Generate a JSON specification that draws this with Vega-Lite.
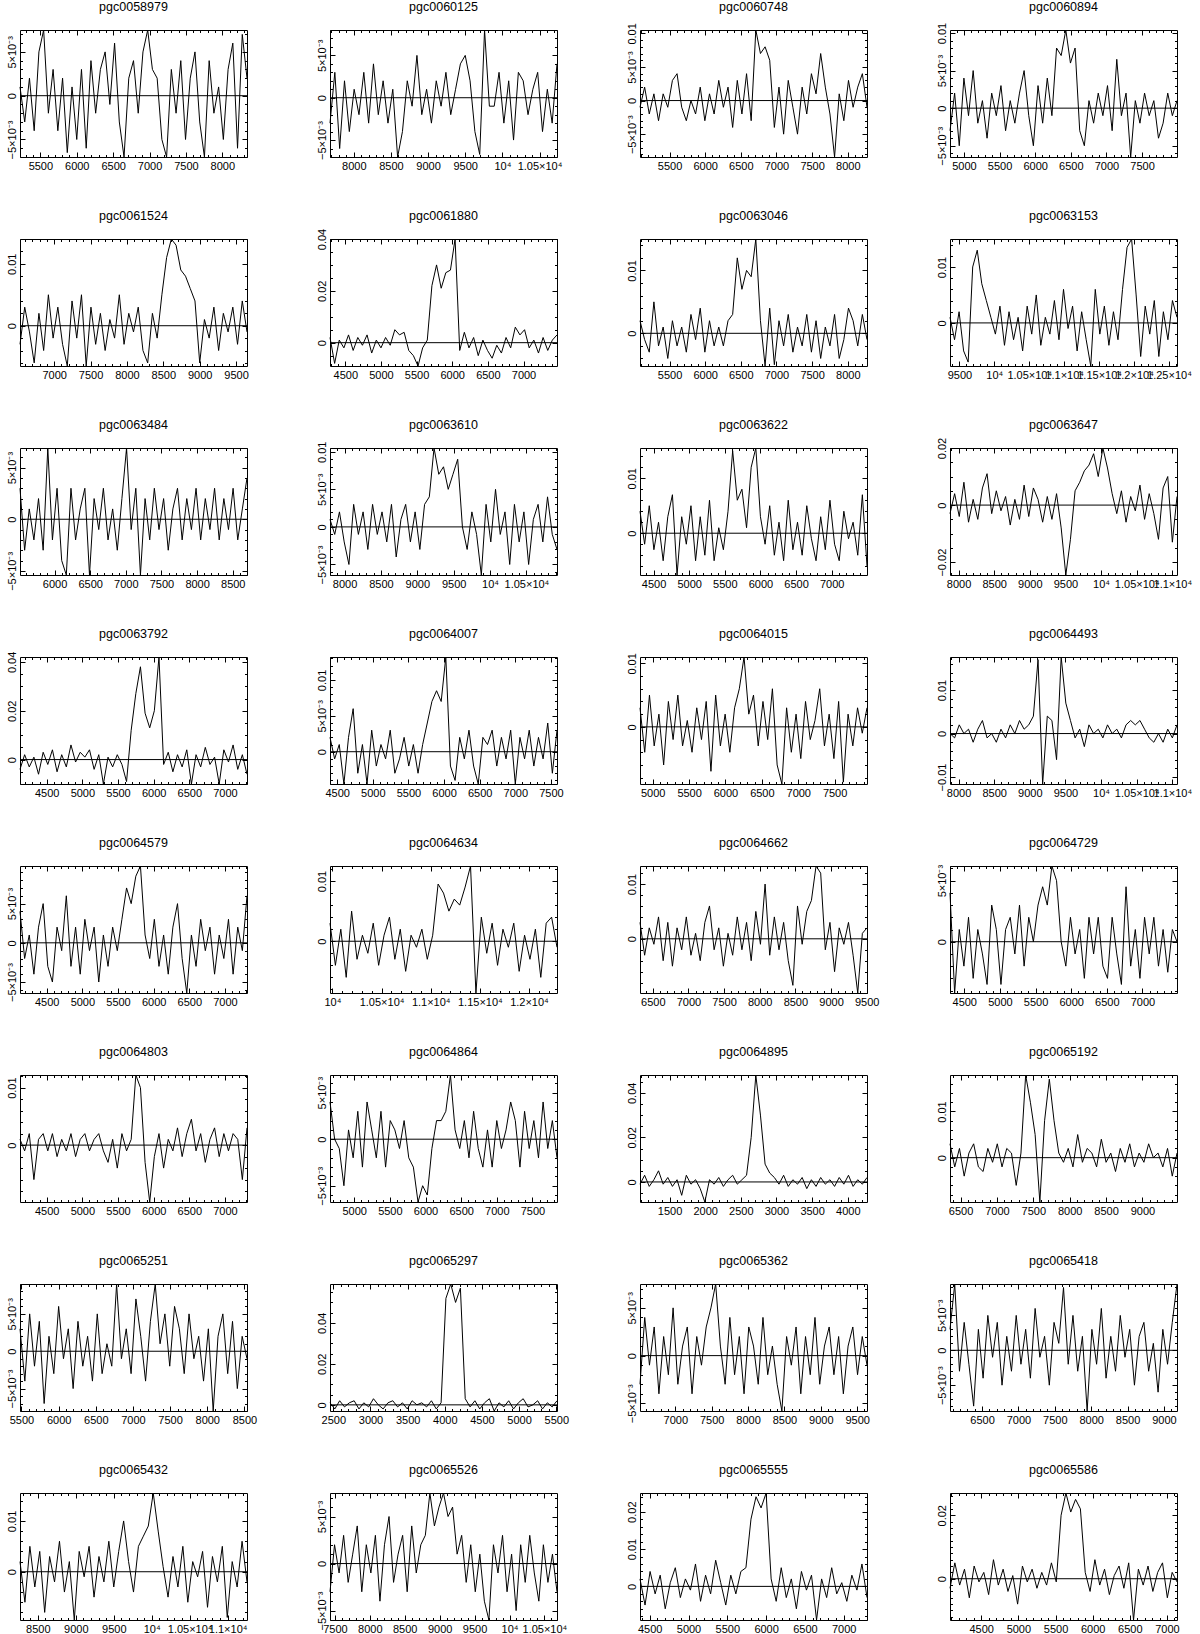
{
"$schema": "https://vega.github.io/schema/vega-lite/v6.json",
"padding": {"left": 4, "top": 0, "right": 5, "bottom": 0},
"datasets": {
"names": [{"g":1,"n":"pgc0058979"},{"g":2,"n":"pgc0060125"},{"g":3,"n":"pgc0060748"},{"g":4,"n":"pgc0060894"},{"g":5,"n":"pgc0061524"},{"g":6,"n":"pgc0061880"},{"g":7,"n":"pgc0063046"},{"g":8,"n":"pgc0063153"},{"g":9,"n":"pgc0063484"},{"g":10,"n":"pgc0063610"},{"g":11,"n":"pgc0063622"},{"g":12,"n":"pgc0063647"},{"g":13,"n":"pgc0063792"},{"g":14,"n":"pgc0064007"},{"g":15,"n":"pgc0064015"},{"g":16,"n":"pgc0064493"},{"g":17,"n":"pgc0064579"},{"g":18,"n":"pgc0064634"},{"g":19,"n":"pgc0064662"},{"g":20,"n":"pgc0064729"},{"g":21,"n":"pgc0064803"},{"g":22,"n":"pgc0064864"},{"g":23,"n":"pgc0064895"},{"g":24,"n":"pgc0065192"},{"g":25,"n":"pgc0065251"},{"g":26,"n":"pgc0065297"},{"g":27,"n":"pgc0065362"},{"g":28,"n":"pgc0065418"},{"g":29,"n":"pgc0065432"},{"g":30,"n":"pgc0065526"},{"g":31,"n":"pgc0065555"},{"g":32,"n":"pgc0065586"}],
"spec": [
{"g":1,"x":5220,"y":1},{"g":1,"x":5285,"y":-3},{"g":1,"x":5350,"y":2},{"g":1,"x":5415,"y":-4},{"g":1,"x":5480,"y":5},{"g":1,"x":5545,"y":7.5},{"g":1,"x":5610,"y":-2},{"g":1,"x":5675,"y":3},{"g":1,"x":5740,"y":-4},{"g":1,"x":5805,"y":2},{"g":1,"x":5870,"y":-6.5},{"g":1,"x":5935,"y":1},{"g":1,"x":6000,"y":-5},{"g":1,"x":6065,"y":3},{"g":1,"x":6130,"y":-6},{"g":1,"x":6195,"y":4},{"g":1,"x":6260,"y":-2},{"g":1,"x":6325,"y":3},{"g":1,"x":6390,"y":5},{"g":1,"x":6455,"y":-1},{"g":1,"x":6520,"y":6},{"g":1,"x":6585,"y":-3},{"g":1,"x":6650,"y":-7},{"g":1,"x":6715,"y":2},{"g":1,"x":6780,"y":4},{"g":1,"x":6845,"y":-2},{"g":1,"x":6910,"y":5},{"g":1,"x":6975,"y":7.5},{"g":1,"x":7040,"y":3},{"g":1,"x":7105,"y":2},{"g":1,"x":7170,"y":-5},{"g":1,"x":7235,"y":-7},{"g":1,"x":7300,"y":3},{"g":1,"x":7365,"y":-2},{"g":1,"x":7430,"y":4},{"g":1,"x":7495,"y":-5},{"g":1,"x":7560,"y":2},{"g":1,"x":7625,"y":5},{"g":1,"x":7690,"y":-3},{"g":1,"x":7755,"y":-7},{"g":1,"x":7820,"y":4},{"g":1,"x":7885,"y":-2},{"g":1,"x":7950,"y":1},{"g":1,"x":8015,"y":-5},{"g":1,"x":8080,"y":3},{"g":1,"x":8145,"y":6},{"g":1,"x":8210,"y":-6},{"g":1,"x":8275,"y":7},{"g":1,"x":8340,"y":2},
{"g":2,"x":7680,"y":-3},{"g":2,"x":7745,"y":3},{"g":2,"x":7810,"y":-6},{"g":2,"x":7875,"y":2},{"g":2,"x":7940,"y":-4},{"g":2,"x":8005,"y":1},{"g":2,"x":8070,"y":-2},{"g":2,"x":8135,"y":3},{"g":2,"x":8200,"y":-3},{"g":2,"x":8265,"y":4},{"g":2,"x":8330,"y":-2},{"g":2,"x":8395,"y":2},{"g":2,"x":8460,"y":-3},{"g":2,"x":8525,"y":1},{"g":2,"x":8590,"y":-7},{"g":2,"x":8655,"y":-4},{"g":2,"x":8720,"y":2},{"g":2,"x":8785,"y":-1},{"g":2,"x":8850,"y":5},{"g":2,"x":8915,"y":-2},{"g":2,"x":8980,"y":1},{"g":2,"x":9045,"y":-3},{"g":2,"x":9110,"y":2},{"g":2,"x":9175,"y":-1},{"g":2,"x":9240,"y":3},{"g":2,"x":9305,"y":-2},{"g":2,"x":9370,"y":1},{"g":2,"x":9435,"y":4},{"g":2,"x":9500,"y":5},{"g":2,"x":9565,"y":2},{"g":2,"x":9630,"y":-4},{"g":2,"x":9695,"y":-6.7},{"g":2,"x":9760,"y":8},{"g":2,"x":9825,"y":-1},{"g":2,"x":9890,"y":-1},{"g":2,"x":9955,"y":3},{"g":2,"x":10020,"y":-3},{"g":2,"x":10085,"y":2},{"g":2,"x":10150,"y":-5},{"g":2,"x":10215,"y":3},{"g":2,"x":10280,"y":2},{"g":2,"x":10345,"y":-2},{"g":2,"x":10410,"y":1},{"g":2,"x":10475,"y":3},{"g":2,"x":10540,"y":-4},{"g":2,"x":10605,"y":1},{"g":2,"x":10670,"y":-3},{"g":2,"x":10735,"y":4},
{"g":3,"x":5085,"y":-1},{"g":3,"x":5150,"y":2},{"g":3,"x":5215,"y":-2},{"g":3,"x":5280,"y":1},{"g":3,"x":5345,"y":-3},{"g":3,"x":5410,"y":1},{"g":3,"x":5475,"y":-1},{"g":3,"x":5540,"y":3},{"g":3,"x":5605,"y":4},{"g":3,"x":5670,"y":-1},{"g":3,"x":5735,"y":-3},{"g":3,"x":5800,"y":0},{"g":3,"x":5865,"y":-2},{"g":3,"x":5930,"y":2},{"g":3,"x":5995,"y":-3},{"g":3,"x":6060,"y":1},{"g":3,"x":6125,"y":-2},{"g":3,"x":6190,"y":3},{"g":3,"x":6255,"y":-1},{"g":3,"x":6320,"y":2},{"g":3,"x":6385,"y":-4},{"g":3,"x":6450,"y":3},{"g":3,"x":6515,"y":-2},{"g":3,"x":6580,"y":4},{"g":3,"x":6645,"y":-3},{"g":3,"x":6710,"y":10.5},{"g":3,"x":6775,"y":7},{"g":3,"x":6840,"y":8},{"g":3,"x":6905,"y":6},{"g":3,"x":6970,"y":-4},{"g":3,"x":7035,"y":2},{"g":3,"x":7100,"y":-5},{"g":3,"x":7165,"y":3},{"g":3,"x":7230,"y":-1},{"g":3,"x":7295,"y":-5},{"g":3,"x":7360,"y":2},{"g":3,"x":7425,"y":-2},{"g":3,"x":7490,"y":4},{"g":3,"x":7555,"y":1},{"g":3,"x":7620,"y":7},{"g":3,"x":7685,"y":2},{"g":3,"x":7750,"y":-2},{"g":3,"x":7815,"y":-8.4},{"g":3,"x":7880,"y":1},{"g":3,"x":7945,"y":-3},{"g":3,"x":8010,"y":3},{"g":3,"x":8075,"y":-1},{"g":3,"x":8140,"y":2},{"g":3,"x":8205,"y":4},{"g":3,"x":8270,"y":-1},
{"g":4,"x":4805,"y":-3},{"g":4,"x":4870,"y":2},{"g":4,"x":4935,"y":-5},{"g":4,"x":5000,"y":4},{"g":4,"x":5065,"y":-1},{"g":4,"x":5130,"y":5},{"g":4,"x":5195,"y":-2},{"g":4,"x":5260,"y":1},{"g":4,"x":5325,"y":-4},{"g":4,"x":5390,"y":2},{"g":4,"x":5455,"y":-1},{"g":4,"x":5520,"y":3},{"g":4,"x":5585,"y":-3},{"g":4,"x":5650,"y":1},{"g":4,"x":5715,"y":-2},{"g":4,"x":5780,"y":2},{"g":4,"x":5845,"y":5},{"g":4,"x":5910,"y":-1},{"g":4,"x":5975,"y":-5},{"g":4,"x":6040,"y":3},{"g":4,"x":6105,"y":-2},{"g":4,"x":6170,"y":4},{"g":4,"x":6235,"y":-1},{"g":4,"x":6300,"y":8},{"g":4,"x":6365,"y":7},{"g":4,"x":6430,"y":10.4},{"g":4,"x":6495,"y":6},{"g":4,"x":6560,"y":8},{"g":4,"x":6625,"y":-3},{"g":4,"x":6690,"y":-5},{"g":4,"x":6755,"y":1},{"g":4,"x":6820,"y":-2},{"g":4,"x":6885,"y":2},{"g":4,"x":6950,"y":-1},{"g":4,"x":7015,"y":3},{"g":4,"x":7080,"y":-3},{"g":4,"x":7145,"y":6.5},{"g":4,"x":7210,"y":-1},{"g":4,"x":7275,"y":2},{"g":4,"x":7340,"y":-6.5},{"g":4,"x":7405,"y":1},{"g":4,"x":7470,"y":-2},{"g":4,"x":7535,"y":2},{"g":4,"x":7600,"y":-1},{"g":4,"x":7665,"y":1},{"g":4,"x":7730,"y":-4},{"g":4,"x":7795,"y":-2},{"g":4,"x":7860,"y":2},{"g":4,"x":7925,"y":-1},{"g":4,"x":7990,"y":1},
{"g":5,"x":6530,"y":-3},{"g":5,"x":6595,"y":3},{"g":5,"x":6660,"y":-1},{"g":5,"x":6725,"y":-6},{"g":5,"x":6790,"y":2},{"g":5,"x":6855,"y":-4},{"g":5,"x":6920,"y":5},{"g":5,"x":6985,"y":-2},{"g":5,"x":7050,"y":3},{"g":5,"x":7115,"y":-3},{"g":5,"x":7180,"y":-6.5},{"g":5,"x":7245,"y":4},{"g":5,"x":7310,"y":-2},{"g":5,"x":7375,"y":5},{"g":5,"x":7440,"y":-6.5},{"g":5,"x":7505,"y":3},{"g":5,"x":7570,"y":-3},{"g":5,"x":7635,"y":2},{"g":5,"x":7700,"y":-4},{"g":5,"x":7765,"y":1},{"g":5,"x":7830,"y":-2},{"g":5,"x":7895,"y":5},{"g":5,"x":7960,"y":-3},{"g":5,"x":8025,"y":2},{"g":5,"x":8090,"y":-1},{"g":5,"x":8155,"y":3},{"g":5,"x":8220,"y":-4},{"g":5,"x":8285,"y":-6},{"g":5,"x":8350,"y":2},{"g":5,"x":8415,"y":-2},{"g":5,"x":8480,"y":5},{"g":5,"x":8545,"y":11},{"g":5,"x":8610,"y":14},{"g":5,"x":8675,"y":13},{"g":5,"x":8740,"y":9},{"g":5,"x":8805,"y":8},{"g":5,"x":8870,"y":6},{"g":5,"x":8935,"y":4},{"g":5,"x":9000,"y":-6},{"g":5,"x":9065,"y":1},{"g":5,"x":9130,"y":-2},{"g":5,"x":9195,"y":3},{"g":5,"x":9260,"y":-4},{"g":5,"x":9325,"y":2},{"g":5,"x":9390,"y":-1},{"g":5,"x":9455,"y":3},{"g":5,"x":9520,"y":-3},{"g":5,"x":9585,"y":4},{"g":5,"x":9650,"y":-1},
{"g":6,"x":4285,"y":2},{"g":6,"x":4350,"y":-8},{"g":6,"x":4415,"y":1},{"g":6,"x":4480,"y":-2},{"g":6,"x":4545,"y":3},{"g":6,"x":4610,"y":-3},{"g":6,"x":4675,"y":2},{"g":6,"x":4740,"y":-1},{"g":6,"x":4805,"y":3},{"g":6,"x":4870,"y":-4},{"g":6,"x":4935,"y":1},{"g":6,"x":5000,"y":-2},{"g":6,"x":5065,"y":2},{"g":6,"x":5130,"y":-1},{"g":6,"x":5195,"y":5},{"g":6,"x":5260,"y":3},{"g":6,"x":5325,"y":4},{"g":6,"x":5390,"y":-3},{"g":6,"x":5455,"y":-5},{"g":6,"x":5520,"y":-9},{"g":6,"x":5585,"y":-2},{"g":6,"x":5650,"y":1},{"g":6,"x":5715,"y":22},{"g":6,"x":5780,"y":30},{"g":6,"x":5845,"y":21},{"g":6,"x":5910,"y":27},{"g":6,"x":5975,"y":28},{"g":6,"x":6040,"y":40},{"g":6,"x":6105,"y":-3},{"g":6,"x":6170,"y":4},{"g":6,"x":6235,"y":-2},{"g":6,"x":6300,"y":2},{"g":6,"x":6365,"y":-5},{"g":6,"x":6430,"y":1},{"g":6,"x":6495,"y":-3},{"g":6,"x":6560,"y":-6},{"g":6,"x":6625,"y":-1},{"g":6,"x":6690,"y":-4},{"g":6,"x":6755,"y":2},{"g":6,"x":6820,"y":-2},{"g":6,"x":6885,"y":6},{"g":6,"x":6950,"y":3},{"g":6,"x":7015,"y":5},{"g":6,"x":7080,"y":-2},{"g":6,"x":7145,"y":1},{"g":6,"x":7210,"y":-4},{"g":6,"x":7275,"y":2},{"g":6,"x":7340,"y":-3},{"g":6,"x":7405,"y":1},{"g":6,"x":7470,"y":3},
{"g":7,"x":5085,"y":2},{"g":7,"x":5150,"y":-1},{"g":7,"x":5215,"y":-3},{"g":7,"x":5280,"y":5},{"g":7,"x":5345,"y":-2},{"g":7,"x":5410,"y":1},{"g":7,"x":5475,"y":-4},{"g":7,"x":5540,"y":2},{"g":7,"x":5605,"y":-2},{"g":7,"x":5670,"y":1},{"g":7,"x":5735,"y":-3},{"g":7,"x":5800,"y":3},{"g":7,"x":5865,"y":-1},{"g":7,"x":5930,"y":4},{"g":7,"x":5995,"y":-3},{"g":7,"x":6060,"y":2},{"g":7,"x":6125,"y":-2},{"g":7,"x":6190,"y":1},{"g":7,"x":6255,"y":-2},{"g":7,"x":6320,"y":2},{"g":7,"x":6385,"y":3},{"g":7,"x":6450,"y":12},{"g":7,"x":6515,"y":7},{"g":7,"x":6580,"y":10},{"g":7,"x":6645,"y":9},{"g":7,"x":6710,"y":15},{"g":7,"x":6775,"y":2},{"g":7,"x":6840,"y":-5.2},{"g":7,"x":6905,"y":4},{"g":7,"x":6970,"y":-5},{"g":7,"x":7035,"y":2},{"g":7,"x":7100,"y":-2},{"g":7,"x":7165,"y":3},{"g":7,"x":7230,"y":-3},{"g":7,"x":7295,"y":1},{"g":7,"x":7360,"y":-2},{"g":7,"x":7425,"y":3},{"g":7,"x":7490,"y":-3},{"g":7,"x":7555,"y":2},{"g":7,"x":7620,"y":-4},{"g":7,"x":7685,"y":1},{"g":7,"x":7750,"y":-2},{"g":7,"x":7815,"y":3},{"g":7,"x":7880,"y":-4},{"g":7,"x":7945,"y":-1},{"g":7,"x":8010,"y":4},{"g":7,"x":8075,"y":2},{"g":7,"x":8140,"y":-2},{"g":7,"x":8205,"y":3},{"g":7,"x":8270,"y":-1},
{"g":8,"x":9365,"y":1},{"g":8,"x":9430,"y":-3},{"g":8,"x":9495,"y":2},{"g":8,"x":9560,"y":-5},{"g":8,"x":9625,"y":-7},{"g":8,"x":9690,"y":10},{"g":8,"x":9755,"y":13},{"g":8,"x":9820,"y":7},{"g":8,"x":9885,"y":4},{"g":8,"x":9950,"y":1},{"g":8,"x":10015,"y":-2},{"g":8,"x":10080,"y":3},{"g":8,"x":10145,"y":-4},{"g":8,"x":10210,"y":2},{"g":8,"x":10275,"y":-3},{"g":8,"x":10340,"y":1},{"g":8,"x":10405,"y":-5},{"g":8,"x":10470,"y":3},{"g":8,"x":10535,"y":-2},{"g":8,"x":10600,"y":5},{"g":8,"x":10665,"y":-4},{"g":8,"x":10730,"y":1},{"g":8,"x":10795,"y":-2},{"g":8,"x":10860,"y":4},{"g":8,"x":10925,"y":-3},{"g":8,"x":10990,"y":6},{"g":8,"x":11055,"y":-1},{"g":8,"x":11120,"y":3},{"g":8,"x":11185,"y":-5},{"g":8,"x":11250,"y":2},{"g":8,"x":11315,"y":-3},{"g":8,"x":11380,"y":-7.7},{"g":8,"x":11445,"y":6},{"g":8,"x":11510,"y":-2},{"g":8,"x":11575,"y":3},{"g":8,"x":11640,"y":-4},{"g":8,"x":11705,"y":2},{"g":8,"x":11770,"y":-3},{"g":8,"x":11835,"y":6},{"g":8,"x":11900,"y":13.5},{"g":8,"x":11965,"y":15},{"g":8,"x":12030,"y":5},{"g":8,"x":12095,"y":-6},{"g":8,"x":12160,"y":3},{"g":8,"x":12225,"y":-2},{"g":8,"x":12290,"y":4},{"g":8,"x":12355,"y":-6},{"g":8,"x":12420,"y":2},{"g":8,"x":12485,"y":-3},{"g":8,"x":12550,"y":4},{"g":8,"x":12615,"y":1},
{"g":9,"x":5515,"y":3},{"g":9,"x":5580,"y":-3},{"g":9,"x":5645,"y":1},{"g":9,"x":5710,"y":-2},{"g":9,"x":5775,"y":2},{"g":9,"x":5840,"y":-3},{"g":9,"x":5905,"y":6.9},{"g":9,"x":5970,"y":-2},{"g":9,"x":6035,"y":3},{"g":9,"x":6100,"y":-4},{"g":9,"x":6165,"y":-5.4},{"g":9,"x":6230,"y":3},{"g":9,"x":6295,"y":-2},{"g":9,"x":6360,"y":1},{"g":9,"x":6425,"y":3},{"g":9,"x":6490,"y":-5.4},{"g":9,"x":6555,"y":2},{"g":9,"x":6620,"y":-1},{"g":9,"x":6685,"y":3},{"g":9,"x":6750,"y":-2},{"g":9,"x":6815,"y":1},{"g":9,"x":6880,"y":-3},{"g":9,"x":6945,"y":2},{"g":9,"x":7010,"y":6.9},{"g":9,"x":7075,"y":-1},{"g":9,"x":7140,"y":3},{"g":9,"x":7205,"y":-5.4},{"g":9,"x":7270,"y":2},{"g":9,"x":7335,"y":-2},{"g":9,"x":7400,"y":3},{"g":9,"x":7465,"y":-1},{"g":9,"x":7530,"y":2},{"g":9,"x":7595,"y":-3},{"g":9,"x":7660,"y":1},{"g":9,"x":7725,"y":3},{"g":9,"x":7790,"y":-2},{"g":9,"x":7855,"y":2},{"g":9,"x":7920,"y":-1},{"g":9,"x":7985,"y":3},{"g":9,"x":8050,"y":-2},{"g":9,"x":8115,"y":2},{"g":9,"x":8180,"y":-1},{"g":9,"x":8245,"y":3},{"g":9,"x":8310,"y":-2},{"g":9,"x":8375,"y":2},{"g":9,"x":8440,"y":-1},{"g":9,"x":8505,"y":3},{"g":9,"x":8570,"y":-2},{"g":9,"x":8635,"y":1},{"g":9,"x":8700,"y":4},
{"g":10,"x":7800,"y":1},{"g":10,"x":7865,"y":-1},{"g":10,"x":7930,"y":2},{"g":10,"x":7995,"y":-2},{"g":10,"x":8060,"y":-5},{"g":10,"x":8125,"y":3},{"g":10,"x":8190,"y":-1},{"g":10,"x":8255,"y":2},{"g":10,"x":8320,"y":-3},{"g":10,"x":8385,"y":3},{"g":10,"x":8450,"y":-1},{"g":10,"x":8515,"y":2},{"g":10,"x":8580,"y":-2},{"g":10,"x":8645,"y":3},{"g":10,"x":8710,"y":-4},{"g":10,"x":8775,"y":1},{"g":10,"x":8840,"y":3},{"g":10,"x":8905,"y":-2},{"g":10,"x":8970,"y":2},{"g":10,"x":9035,"y":-3},{"g":10,"x":9100,"y":3},{"g":10,"x":9165,"y":4},{"g":10,"x":9230,"y":10.5},{"g":10,"x":9295,"y":7},{"g":10,"x":9360,"y":8},{"g":10,"x":9425,"y":5},{"g":10,"x":9490,"y":7},{"g":10,"x":9555,"y":9},{"g":10,"x":9620,"y":0},{"g":10,"x":9685,"y":-3},{"g":10,"x":9750,"y":2},{"g":10,"x":9815,"y":-1},{"g":10,"x":9880,"y":-6.4},{"g":10,"x":9945,"y":3},{"g":10,"x":10010,"y":-2},{"g":10,"x":10075,"y":5},{"g":10,"x":10140,"y":-1},{"g":10,"x":10205,"y":2},{"g":10,"x":10270,"y":-5},{"g":10,"x":10335,"y":3},{"g":10,"x":10400,"y":-2},{"g":10,"x":10465,"y":2},{"g":10,"x":10530,"y":-5},{"g":10,"x":10595,"y":1},{"g":10,"x":10660,"y":3},{"g":10,"x":10725,"y":-2},{"g":10,"x":10790,"y":4},{"g":10,"x":10855,"y":-1},{"g":10,"x":10920,"y":-3},
{"g":11,"x":4310,"y":4},{"g":11,"x":4375,"y":-2},{"g":11,"x":4440,"y":5},{"g":11,"x":4505,"y":-3},{"g":11,"x":4570,"y":2},{"g":11,"x":4635,"y":-5},{"g":11,"x":4700,"y":3},{"g":11,"x":4765,"y":7},{"g":11,"x":4830,"y":-7.6},{"g":11,"x":4895,"y":3},{"g":11,"x":4960,"y":-2},{"g":11,"x":5025,"y":5},{"g":11,"x":5090,"y":-5},{"g":11,"x":5155,"y":3},{"g":11,"x":5220,"y":-4},{"g":11,"x":5285,"y":6},{"g":11,"x":5350,"y":-5},{"g":11,"x":5415,"y":1},{"g":11,"x":5480,"y":-3},{"g":11,"x":5545,"y":4},{"g":11,"x":5610,"y":15},{"g":11,"x":5675,"y":6},{"g":11,"x":5740,"y":8},{"g":11,"x":5805,"y":1},{"g":11,"x":5870,"y":12},{"g":11,"x":5935,"y":15.5},{"g":11,"x":6000,"y":3},{"g":11,"x":6065,"y":-2},{"g":11,"x":6130,"y":5},{"g":11,"x":6195,"y":-4},{"g":11,"x":6260,"y":2},{"g":11,"x":6325,"y":-5},{"g":11,"x":6390,"y":6},{"g":11,"x":6455,"y":-3},{"g":11,"x":6520,"y":2},{"g":11,"x":6585,"y":-4},{"g":11,"x":6650,"y":5},{"g":11,"x":6715,"y":-1},{"g":11,"x":6780,"y":-5},{"g":11,"x":6845,"y":3},{"g":11,"x":6910,"y":-3},{"g":11,"x":6975,"y":6},{"g":11,"x":7040,"y":-2},{"g":11,"x":7105,"y":-5},{"g":11,"x":7170,"y":4},{"g":11,"x":7235,"y":-1},{"g":11,"x":7300,"y":2},{"g":11,"x":7365,"y":-4},{"g":11,"x":7430,"y":7},{"g":11,"x":7495,"y":-6},
{"g":12,"x":7880,"y":-3},{"g":12,"x":7945,"y":4},{"g":12,"x":8010,"y":-4},{"g":12,"x":8075,"y":8},{"g":12,"x":8140,"y":-6},{"g":12,"x":8205,"y":2},{"g":12,"x":8270,"y":-5},{"g":12,"x":8335,"y":6},{"g":12,"x":8400,"y":11},{"g":12,"x":8465,"y":-3},{"g":12,"x":8530,"y":5},{"g":12,"x":8595,"y":-2},{"g":12,"x":8660,"y":3},{"g":12,"x":8725,"y":-7},{"g":12,"x":8790,"y":2},{"g":12,"x":8855,"y":-5},{"g":12,"x":8920,"y":7},{"g":12,"x":8985,"y":-4},{"g":12,"x":9050,"y":6},{"g":12,"x":9115,"y":2},{"g":12,"x":9180,"y":-6},{"g":12,"x":9245,"y":3},{"g":12,"x":9310,"y":-5},{"g":12,"x":9375,"y":4},{"g":12,"x":9440,"y":-8},{"g":12,"x":9505,"y":-24.5},{"g":12,"x":9570,"y":-12},{"g":12,"x":9635,"y":5},{"g":12,"x":9700,"y":8},{"g":12,"x":9765,"y":12},{"g":12,"x":9830,"y":14},{"g":12,"x":9895,"y":18},{"g":12,"x":9960,"y":10},{"g":12,"x":10025,"y":20},{"g":12,"x":10090,"y":13},{"g":12,"x":10155,"y":4},{"g":12,"x":10220,"y":-3},{"g":12,"x":10285,"y":5},{"g":12,"x":10350,"y":-6},{"g":12,"x":10415,"y":3},{"g":12,"x":10480,"y":-2},{"g":12,"x":10545,"y":7},{"g":12,"x":10610,"y":-5},{"g":12,"x":10675,"y":4},{"g":12,"x":10740,"y":-3},{"g":12,"x":10805,"y":-12},{"g":12,"x":10870,"y":6},{"g":12,"x":10935,"y":10},{"g":12,"x":11000,"y":-13},{"g":12,"x":11065,"y":3},
{"g":13,"x":4125,"y":-4},{"g":13,"x":4190,"y":2},{"g":13,"x":4255,"y":-3},{"g":13,"x":4320,"y":1},{"g":13,"x":4385,"y":-6},{"g":13,"x":4450,"y":3},{"g":13,"x":4515,"y":-2},{"g":13,"x":4580,"y":4},{"g":13,"x":4645,"y":-5},{"g":13,"x":4710,"y":2},{"g":13,"x":4775,"y":-3},{"g":13,"x":4840,"y":6},{"g":13,"x":4905,"y":-1},{"g":13,"x":4970,"y":3},{"g":13,"x":5035,"y":1},{"g":13,"x":5100,"y":4},{"g":13,"x":5165,"y":-4},{"g":13,"x":5230,"y":2},{"g":13,"x":5295,"y":-10},{"g":13,"x":5360,"y":1},{"g":13,"x":5425,"y":-3},{"g":13,"x":5490,"y":2},{"g":13,"x":5555,"y":-2},{"g":13,"x":5620,"y":-9},{"g":13,"x":5685,"y":12},{"g":13,"x":5750,"y":27},{"g":13,"x":5815,"y":38},{"g":13,"x":5880,"y":19},{"g":13,"x":5945,"y":13},{"g":13,"x":6010,"y":20},{"g":13,"x":6075,"y":42},{"g":13,"x":6140,"y":-2},{"g":13,"x":6205,"y":3},{"g":13,"x":6270,"y":-5},{"g":13,"x":6335,"y":2},{"g":13,"x":6400,"y":-3},{"g":13,"x":6465,"y":4},{"g":13,"x":6530,"y":-10},{"g":13,"x":6595,"y":2},{"g":13,"x":6660,"y":-3},{"g":13,"x":6725,"y":5},{"g":13,"x":6790,"y":-2},{"g":13,"x":6855,"y":1},{"g":13,"x":6920,"y":-10},{"g":13,"x":6985,"y":4},{"g":13,"x":7050,"y":-1},{"g":13,"x":7115,"y":6},{"g":13,"x":7180,"y":-4},{"g":13,"x":7245,"y":2},{"g":13,"x":7310,"y":-6},
{"g":14,"x":4400,"y":2},{"g":14,"x":4465,"y":-1},{"g":14,"x":4530,"y":1},{"g":14,"x":4595,"y":-4.5},{"g":14,"x":4660,"y":2},{"g":14,"x":4725,"y":6},{"g":14,"x":4790,"y":-3},{"g":14,"x":4855,"y":1},{"g":14,"x":4920,"y":-4.5},{"g":14,"x":4985,"y":3},{"g":14,"x":5050,"y":-2},{"g":14,"x":5115,"y":1},{"g":14,"x":5180,"y":-1},{"g":14,"x":5245,"y":3},{"g":14,"x":5310,"y":-3},{"g":14,"x":5375,"y":-1},{"g":14,"x":5440,"y":2},{"g":14,"x":5505,"y":-2},{"g":14,"x":5570,"y":1},{"g":14,"x":5635,"y":-3},{"g":14,"x":5700,"y":1},{"g":14,"x":5765,"y":4},{"g":14,"x":5830,"y":7},{"g":14,"x":5895,"y":8.5},{"g":14,"x":5960,"y":7},{"g":14,"x":6025,"y":13.2},{"g":14,"x":6090,"y":-2},{"g":14,"x":6155,"y":-4},{"g":14,"x":6220,"y":2},{"g":14,"x":6285,"y":-1},{"g":14,"x":6350,"y":3},{"g":14,"x":6415,"y":-2},{"g":14,"x":6480,"y":-4.5},{"g":14,"x":6545,"y":2},{"g":14,"x":6610,"y":1},{"g":14,"x":6675,"y":3},{"g":14,"x":6740,"y":-2},{"g":14,"x":6805,"y":2},{"g":14,"x":6870,"y":-1},{"g":14,"x":6935,"y":3},{"g":14,"x":7000,"y":-4.5},{"g":14,"x":7065,"y":2},{"g":14,"x":7130,"y":-1},{"g":14,"x":7195,"y":3},{"g":14,"x":7260,"y":-2},{"g":14,"x":7325,"y":2},{"g":14,"x":7390,"y":-1},{"g":14,"x":7455,"y":4},{"g":14,"x":7520,"y":-3},{"g":14,"x":7585,"y":3},
{"g":15,"x":4825,"y":3},{"g":15,"x":4890,"y":-4},{"g":15,"x":4955,"y":5},{"g":15,"x":5020,"y":-3},{"g":15,"x":5085,"y":2},{"g":15,"x":5150,"y":-6},{"g":15,"x":5215,"y":4},{"g":15,"x":5280,"y":-2},{"g":15,"x":5345,"y":5},{"g":15,"x":5410,"y":-3},{"g":15,"x":5475,"y":1},{"g":15,"x":5540,"y":-4},{"g":15,"x":5605,"y":3},{"g":15,"x":5670,"y":-2},{"g":15,"x":5735,"y":4},{"g":15,"x":5800,"y":-7},{"g":15,"x":5865,"y":5},{"g":15,"x":5930,"y":-3},{"g":15,"x":5995,"y":2},{"g":15,"x":6060,"y":-4},{"g":15,"x":6125,"y":3},{"g":15,"x":6190,"y":6},{"g":15,"x":6255,"y":11},{"g":15,"x":6320,"y":2},{"g":15,"x":6385,"y":5},{"g":15,"x":6450,"y":-3},{"g":15,"x":6515,"y":4},{"g":15,"x":6580,"y":-2},{"g":15,"x":6645,"y":6},{"g":15,"x":6710,"y":-6},{"g":15,"x":6775,"y":-9},{"g":15,"x":6840,"y":3},{"g":15,"x":6905,"y":-4},{"g":15,"x":6970,"y":2},{"g":15,"x":7035,"y":-5},{"g":15,"x":7100,"y":4},{"g":15,"x":7165,"y":-2},{"g":15,"x":7230,"y":1},{"g":15,"x":7295,"y":6},{"g":15,"x":7360,"y":-3},{"g":15,"x":7425,"y":2},{"g":15,"x":7490,"y":-5},{"g":15,"x":7555,"y":4},{"g":15,"x":7620,"y":-8.7},{"g":15,"x":7685,"y":2},{"g":15,"x":7750,"y":-3},{"g":15,"x":7815,"y":3},{"g":15,"x":7880,"y":-1},{"g":15,"x":7945,"y":3},
{"g":16,"x":7880,"y":0},{"g":16,"x":7945,"y":-1},{"g":16,"x":8010,"y":2},{"g":16,"x":8075,"y":0},{"g":16,"x":8140,"y":1},{"g":16,"x":8205,"y":-2},{"g":16,"x":8270,"y":1},{"g":16,"x":8335,"y":3},{"g":16,"x":8400,"y":-1},{"g":16,"x":8465,"y":0},{"g":16,"x":8530,"y":-2},{"g":16,"x":8595,"y":1},{"g":16,"x":8660,"y":-1},{"g":16,"x":8725,"y":2},{"g":16,"x":8790,"y":0},{"g":16,"x":8855,"y":3},{"g":16,"x":8920,"y":1},{"g":16,"x":8985,"y":2},{"g":16,"x":9050,"y":4},{"g":16,"x":9115,"y":17},{"g":16,"x":9180,"y":-11.6},{"g":16,"x":9245,"y":4},{"g":16,"x":9310,"y":3},{"g":16,"x":9375,"y":-6},{"g":16,"x":9440,"y":17.6},{"g":16,"x":9505,"y":7},{"g":16,"x":9570,"y":3},{"g":16,"x":9635,"y":-1},{"g":16,"x":9700,"y":1},{"g":16,"x":9765,"y":-3},{"g":16,"x":9830,"y":2},{"g":16,"x":9895,"y":0},{"g":16,"x":9960,"y":1},{"g":16,"x":10025,"y":-1},{"g":16,"x":10090,"y":2},{"g":16,"x":10155,"y":0},{"g":16,"x":10220,"y":1},{"g":16,"x":10285,"y":-1},{"g":16,"x":10350,"y":2},{"g":16,"x":10415,"y":3},{"g":16,"x":10480,"y":2},{"g":16,"x":10545,"y":3},{"g":16,"x":10610,"y":1},{"g":16,"x":10675,"y":-1},{"g":16,"x":10740,"y":-2},{"g":16,"x":10805,"y":0},{"g":16,"x":10870,"y":-2},{"g":16,"x":10935,"y":1},{"g":16,"x":11000,"y":-1},{"g":16,"x":11065,"y":2},
{"g":17,"x":4125,"y":4},{"g":17,"x":4190,"y":-2},{"g":17,"x":4255,"y":1},{"g":17,"x":4320,"y":-4},{"g":17,"x":4385,"y":2},{"g":17,"x":4450,"y":5},{"g":17,"x":4515,"y":-3},{"g":17,"x":4580,"y":-5},{"g":17,"x":4645,"y":2},{"g":17,"x":4710,"y":-1},{"g":17,"x":4775,"y":6},{"g":17,"x":4840,"y":-3},{"g":17,"x":4905,"y":2},{"g":17,"x":4970,"y":-4},{"g":17,"x":5035,"y":3},{"g":17,"x":5100,"y":-1},{"g":17,"x":5165,"y":2},{"g":17,"x":5230,"y":-5},{"g":17,"x":5295,"y":1},{"g":17,"x":5360,"y":-3},{"g":17,"x":5425,"y":2},{"g":17,"x":5490,"y":-1},{"g":17,"x":5555,"y":3},{"g":17,"x":5620,"y":7},{"g":17,"x":5685,"y":5},{"g":17,"x":5750,"y":8.5},{"g":17,"x":5815,"y":9.8},{"g":17,"x":5880,"y":1},{"g":17,"x":5945,"y":-2},{"g":17,"x":6010,"y":3},{"g":17,"x":6075,"y":-3},{"g":17,"x":6140,"y":1},{"g":17,"x":6205,"y":-4},{"g":17,"x":6270,"y":2},{"g":17,"x":6335,"y":5},{"g":17,"x":6400,"y":-2},{"g":17,"x":6465,"y":-6.4},{"g":17,"x":6530,"y":1},{"g":17,"x":6595,"y":-3},{"g":17,"x":6660,"y":3},{"g":17,"x":6725,"y":-1},{"g":17,"x":6790,"y":2},{"g":17,"x":6855,"y":-4},{"g":17,"x":6920,"y":1},{"g":17,"x":6985,"y":-2},{"g":17,"x":7050,"y":3},{"g":17,"x":7115,"y":-4},{"g":17,"x":7180,"y":2},{"g":17,"x":7245,"y":-1},{"g":17,"x":7310,"y":6},
{"g":18,"x":9975,"y":3},{"g":18,"x":10030,"y":-4},{"g":18,"x":10085,"y":2},{"g":18,"x":10140,"y":-6},{"g":18,"x":10195,"y":5},{"g":18,"x":10250,"y":-3},{"g":18,"x":10305,"y":1},{"g":18,"x":10360,"y":-2},{"g":18,"x":10415,"y":3},{"g":18,"x":10470,"y":-4},{"g":18,"x":10525,"y":1},{"g":18,"x":10580,"y":4},{"g":18,"x":10635,"y":-3},{"g":18,"x":10690,"y":2},{"g":18,"x":10745,"y":-5},{"g":18,"x":10800,"y":1},{"g":18,"x":10855,"y":-1},{"g":18,"x":10910,"y":2},{"g":18,"x":10965,"y":-3},{"g":18,"x":11020,"y":1},{"g":18,"x":11075,"y":9.5},{"g":18,"x":11130,"y":8},{"g":18,"x":11185,"y":5},{"g":18,"x":11240,"y":7},{"g":18,"x":11295,"y":6},{"g":18,"x":11350,"y":9},{"g":18,"x":11405,"y":12.5},{"g":18,"x":11460,"y":-8.6},{"g":18,"x":11515,"y":4},{"g":18,"x":11570,"y":-2},{"g":18,"x":11625,"y":3},{"g":18,"x":11680,"y":-4},{"g":18,"x":11735,"y":2},{"g":18,"x":11790,"y":-1},{"g":18,"x":11845,"y":3},{"g":18,"x":11900,"y":-5},{"g":18,"x":11955,"y":1},{"g":18,"x":12010,"y":-3},{"g":18,"x":12065,"y":2},{"g":18,"x":12120,"y":-6},{"g":18,"x":12175,"y":3},{"g":18,"x":12230,"y":4},{"g":18,"x":12285,"y":-1},
{"g":19,"x":6320,"y":3},{"g":19,"x":6385,"y":-3},{"g":19,"x":6450,"y":2},{"g":19,"x":6515,"y":-1},{"g":19,"x":6580,"y":4},{"g":19,"x":6645,"y":-4},{"g":19,"x":6710,"y":3},{"g":19,"x":6775,"y":-5},{"g":19,"x":6840,"y":2},{"g":19,"x":6905,"y":-2},{"g":19,"x":6970,"y":4},{"g":19,"x":7035,"y":-3},{"g":19,"x":7100,"y":1},{"g":19,"x":7165,"y":-4},{"g":19,"x":7230,"y":3},{"g":19,"x":7295,"y":6},{"g":19,"x":7360,"y":-2},{"g":19,"x":7425,"y":2},{"g":19,"x":7490,"y":-5},{"g":19,"x":7555,"y":1},{"g":19,"x":7620,"y":-3},{"g":19,"x":7685,"y":4},{"g":19,"x":7750,"y":-2},{"g":19,"x":7815,"y":3},{"g":19,"x":7880,"y":-4},{"g":19,"x":7945,"y":5},{"g":19,"x":8010,"y":-1},{"g":19,"x":8075,"y":10},{"g":19,"x":8140,"y":-3},{"g":19,"x":8205,"y":4},{"g":19,"x":8270,"y":-2},{"g":19,"x":8335,"y":3},{"g":19,"x":8400,"y":-4},{"g":19,"x":8465,"y":-8.5},{"g":19,"x":8530,"y":6},{"g":19,"x":8595,"y":-1},{"g":19,"x":8660,"y":5},{"g":19,"x":8725,"y":7},{"g":19,"x":8790,"y":13.3},{"g":19,"x":8855,"y":12},{"g":19,"x":8920,"y":-2},{"g":19,"x":8985,"y":3},{"g":19,"x":9050,"y":-6},{"g":19,"x":9115,"y":2},{"g":19,"x":9180,"y":-1},{"g":19,"x":9245,"y":3},{"g":19,"x":9310,"y":-3},{"g":19,"x":9375,"y":-9.9},{"g":19,"x":9440,"y":1},{"g":19,"x":9505,"y":2},
{"g":20,"x":4300,"y":4},{"g":20,"x":4365,"y":-4.2},{"g":20,"x":4430,"y":1},{"g":20,"x":4495,"y":-2},{"g":20,"x":4560,"y":2},{"g":20,"x":4625,"y":-3},{"g":20,"x":4690,"y":1},{"g":20,"x":4755,"y":-1},{"g":20,"x":4820,"y":-3.5},{"g":20,"x":4885,"y":3},{"g":20,"x":4950,"y":1},{"g":20,"x":5015,"y":-3.5},{"g":20,"x":5080,"y":1},{"g":20,"x":5145,"y":2},{"g":20,"x":5210,"y":-1},{"g":20,"x":5275,"y":3},{"g":20,"x":5340,"y":-2},{"g":20,"x":5405,"y":2},{"g":20,"x":5470,"y":0},{"g":20,"x":5535,"y":3},{"g":20,"x":5600,"y":4.5},{"g":20,"x":5665,"y":3},{"g":20,"x":5730,"y":6.2},{"g":20,"x":5795,"y":5},{"g":20,"x":5860,"y":0},{"g":20,"x":5925,"y":-2},{"g":20,"x":5990,"y":2},{"g":20,"x":6055,"y":-1},{"g":20,"x":6120,"y":1},{"g":20,"x":6185,"y":-3},{"g":20,"x":6250,"y":2},{"g":20,"x":6315,"y":-1},{"g":20,"x":6380,"y":2},{"g":20,"x":6445,"y":-2},{"g":20,"x":6510,"y":-3},{"g":20,"x":6575,"y":2},{"g":20,"x":6640,"y":-1},{"g":20,"x":6705,"y":-3.5},{"g":20,"x":6770,"y":4.5},{"g":20,"x":6835,"y":-2},{"g":20,"x":6900,"y":1},{"g":20,"x":6965,"y":-3},{"g":20,"x":7030,"y":2},{"g":20,"x":7095,"y":-1},{"g":20,"x":7160,"y":2},{"g":20,"x":7225,"y":-2},{"g":20,"x":7290,"y":1},{"g":20,"x":7355,"y":-2.5},{"g":20,"x":7420,"y":1},{"g":20,"x":7485,"y":0},
{"g":21,"x":4125,"y":1},{"g":21,"x":4190,"y":-1},{"g":21,"x":4255,"y":2},{"g":21,"x":4320,"y":-6},{"g":21,"x":4385,"y":1},{"g":21,"x":4450,"y":2},{"g":21,"x":4515,"y":-1},{"g":21,"x":4580,"y":2},{"g":21,"x":4645,"y":-2},{"g":21,"x":4710,"y":1},{"g":21,"x":4775,"y":-1},{"g":21,"x":4840,"y":2},{"g":21,"x":4905,"y":-2},{"g":21,"x":4970,"y":1},{"g":21,"x":5035,"y":2},{"g":21,"x":5100,"y":-1},{"g":21,"x":5165,"y":1},{"g":21,"x":5230,"y":2},{"g":21,"x":5295,"y":-1},{"g":21,"x":5360,"y":-3},{"g":21,"x":5425,"y":1},{"g":21,"x":5490,"y":-4},{"g":21,"x":5555,"y":2},{"g":21,"x":5620,"y":-1},{"g":21,"x":5685,"y":1},{"g":21,"x":5750,"y":12.2},{"g":21,"x":5815,"y":10},{"g":21,"x":5880,"y":-3},{"g":21,"x":5945,"y":-9.9},{"g":21,"x":6010,"y":-2},{"g":21,"x":6075,"y":2},{"g":21,"x":6140,"y":-4},{"g":21,"x":6205,"y":1},{"g":21,"x":6270,"y":-1},{"g":21,"x":6335,"y":3},{"g":21,"x":6400,"y":-2},{"g":21,"x":6465,"y":2},{"g":21,"x":6530,"y":4.5},{"g":21,"x":6595,"y":-1},{"g":21,"x":6660,"y":2},{"g":21,"x":6725,"y":-3},{"g":21,"x":6790,"y":1},{"g":21,"x":6855,"y":3},{"g":21,"x":6920,"y":-2},{"g":21,"x":6985,"y":2},{"g":21,"x":7050,"y":-1},{"g":21,"x":7115,"y":2},{"g":21,"x":7180,"y":1},{"g":21,"x":7245,"y":-6},{"g":21,"x":7310,"y":3},
{"g":22,"x":4660,"y":4},{"g":22,"x":4725,"y":0},{"g":22,"x":4790,"y":-1},{"g":22,"x":4855,"y":-5},{"g":22,"x":4920,"y":1},{"g":22,"x":4985,"y":-2},{"g":22,"x":5050,"y":3},{"g":22,"x":5115,"y":-3},{"g":22,"x":5180,"y":4},{"g":22,"x":5245,"y":1},{"g":22,"x":5310,"y":-2},{"g":22,"x":5375,"y":3},{"g":22,"x":5440,"y":-3},{"g":22,"x":5505,"y":2},{"g":22,"x":5570,"y":1},{"g":22,"x":5635,"y":-1},{"g":22,"x":5700,"y":2},{"g":22,"x":5765,"y":-2},{"g":22,"x":5830,"y":-3},{"g":22,"x":5895,"y":-6.75},{"g":22,"x":5960,"y":-5},{"g":22,"x":6025,"y":-6},{"g":22,"x":6090,"y":-1},{"g":22,"x":6155,"y":2},{"g":22,"x":6220,"y":2},{"g":22,"x":6285,"y":3},{"g":22,"x":6350,"y":6.9},{"g":22,"x":6415,"y":1},{"g":22,"x":6480,"y":-1},{"g":22,"x":6545,"y":2},{"g":22,"x":6610,"y":-2},{"g":22,"x":6675,"y":3},{"g":22,"x":6740,"y":-1},{"g":22,"x":6805,"y":-3},{"g":22,"x":6870,"y":1},{"g":22,"x":6935,"y":-3},{"g":22,"x":7000,"y":2},{"g":22,"x":7065,"y":-1},{"g":22,"x":7130,"y":1},{"g":22,"x":7195,"y":4},{"g":22,"x":7260,"y":2},{"g":22,"x":7325,"y":-3},{"g":22,"x":7390,"y":3},{"g":22,"x":7455,"y":-1},{"g":22,"x":7520,"y":2},{"g":22,"x":7585,"y":-2},{"g":22,"x":7650,"y":4},{"g":22,"x":7715,"y":-1},{"g":22,"x":7780,"y":2},{"g":22,"x":7845,"y":-2},
{"g":23,"x":1085,"y":-1},{"g":23,"x":1150,"y":3},{"g":23,"x":1215,"y":-2},{"g":23,"x":1280,"y":1},{"g":23,"x":1345,"y":5},{"g":23,"x":1410,"y":-1},{"g":23,"x":1475,"y":2},{"g":23,"x":1540,"y":-2},{"g":23,"x":1605,"y":1},{"g":23,"x":1670,"y":-6},{"g":23,"x":1735,"y":3},{"g":23,"x":1800,"y":-1},{"g":23,"x":1865,"y":1},{"g":23,"x":1930,"y":-3},{"g":23,"x":1995,"y":-9},{"g":23,"x":2060,"y":1},{"g":23,"x":2125,"y":-1},{"g":23,"x":2190,"y":2},{"g":23,"x":2255,"y":-2},{"g":23,"x":2320,"y":1},{"g":23,"x":2385,"y":3},{"g":23,"x":2450,"y":-1},{"g":23,"x":2515,"y":1},{"g":23,"x":2580,"y":3},{"g":23,"x":2645,"y":20},{"g":23,"x":2710,"y":48},{"g":23,"x":2775,"y":30},{"g":23,"x":2840,"y":8},{"g":23,"x":2905,"y":4},{"g":23,"x":2970,"y":2},{"g":23,"x":3035,"y":-1},{"g":23,"x":3100,"y":3},{"g":23,"x":3165,"y":-2},{"g":23,"x":3230,"y":1},{"g":23,"x":3295,"y":-1},{"g":23,"x":3360,"y":2},{"g":23,"x":3425,"y":-3},{"g":23,"x":3490,"y":1},{"g":23,"x":3555,"y":-2},{"g":23,"x":3620,"y":2},{"g":23,"x":3685,"y":-1},{"g":23,"x":3750,"y":1},{"g":23,"x":3815,"y":-2},{"g":23,"x":3880,"y":2},{"g":23,"x":3945,"y":-1},{"g":23,"x":4010,"y":3},{"g":23,"x":4075,"y":-2},{"g":23,"x":4140,"y":1},{"g":23,"x":4205,"y":-1},{"g":23,"x":4270,"y":2},
{"g":24,"x":6355,"y":3},{"g":24,"x":6420,"y":-2},{"g":24,"x":6485,"y":2},{"g":24,"x":6550,"y":-4},{"g":24,"x":6615,"y":1},{"g":24,"x":6680,"y":3},{"g":24,"x":6745,"y":-2},{"g":24,"x":6810,"y":-3},{"g":24,"x":6875,"y":2},{"g":24,"x":6940,"y":-1},{"g":24,"x":7005,"y":3},{"g":24,"x":7070,"y":-2},{"g":24,"x":7135,"y":2},{"g":24,"x":7200,"y":1},{"g":24,"x":7265,"y":-6},{"g":24,"x":7330,"y":1},{"g":24,"x":7395,"y":17.9},{"g":24,"x":7460,"y":12},{"g":24,"x":7525,"y":5},{"g":24,"x":7590,"y":-9.6},{"g":24,"x":7655,"y":8},{"g":24,"x":7720,"y":17},{"g":24,"x":7785,"y":8},{"g":24,"x":7850,"y":1},{"g":24,"x":7915,"y":-1},{"g":24,"x":7980,"y":2},{"g":24,"x":8045,"y":-2},{"g":24,"x":8110,"y":5},{"g":24,"x":8175,"y":-1},{"g":24,"x":8240,"y":2},{"g":24,"x":8305,"y":1},{"g":24,"x":8370,"y":-2},{"g":24,"x":8435,"y":4},{"g":24,"x":8500,"y":-1},{"g":24,"x":8565,"y":1},{"g":24,"x":8630,"y":-3},{"g":24,"x":8695,"y":2},{"g":24,"x":8760,"y":-1},{"g":24,"x":8825,"y":3},{"g":24,"x":8890,"y":-2},{"g":24,"x":8955,"y":1},{"g":24,"x":9020,"y":-1},{"g":24,"x":9085,"y":3},{"g":24,"x":9150,"y":0},{"g":24,"x":9215,"y":1},{"g":24,"x":9280,"y":-2},{"g":24,"x":9345,"y":2},{"g":24,"x":9410,"y":-4},{"g":24,"x":9475,"y":1},
{"g":25,"x":5480,"y":3},{"g":25,"x":5545,"y":-4},{"g":25,"x":5610,"y":5},{"g":25,"x":5675,"y":-2},{"g":25,"x":5740,"y":4},{"g":25,"x":5805,"y":-7},{"g":25,"x":5870,"y":2},{"g":25,"x":5935,"y":-3},{"g":25,"x":6000,"y":6},{"g":25,"x":6065,"y":-1},{"g":25,"x":6130,"y":3},{"g":25,"x":6195,"y":-5},{"g":25,"x":6260,"y":4},{"g":25,"x":6325,"y":-2},{"g":25,"x":6390,"y":2},{"g":25,"x":6455,"y":-4},{"g":25,"x":6520,"y":5},{"g":25,"x":6585,"y":-3},{"g":25,"x":6650,"y":1},{"g":25,"x":6715,"y":-2},{"g":25,"x":6780,"y":9},{"g":25,"x":6845,"y":-1},{"g":25,"x":6910,"y":3},{"g":25,"x":6975,"y":-3},{"g":25,"x":7040,"y":7},{"g":25,"x":7105,"y":2},{"g":25,"x":7170,"y":-4},{"g":25,"x":7235,"y":4},{"g":25,"x":7300,"y":9},{"g":25,"x":7365,"y":1},{"g":25,"x":7430,"y":5},{"g":25,"x":7495,"y":-2},{"g":25,"x":7560,"y":6},{"g":25,"x":7625,"y":3},{"g":25,"x":7690,"y":-3},{"g":25,"x":7755,"y":5},{"g":25,"x":7820,"y":-1},{"g":25,"x":7885,"y":2},{"g":25,"x":7950,"y":-4},{"g":25,"x":8015,"y":3},{"g":25,"x":8080,"y":-8},{"g":25,"x":8145,"y":2},{"g":25,"x":8210,"y":5},{"g":25,"x":8275,"y":-3},{"g":25,"x":8340,"y":4},{"g":25,"x":8405,"y":-5},{"g":25,"x":8470,"y":2},{"g":25,"x":8535,"y":-1},
{"g":26,"x":2455,"y":1},{"g":26,"x":2520,"y":-2},{"g":26,"x":2585,"y":2},{"g":26,"x":2650,"y":-1},{"g":26,"x":2715,"y":1},{"g":26,"x":2780,"y":2},{"g":26,"x":2845,"y":-2},{"g":26,"x":2910,"y":1},{"g":26,"x":2975,"y":-1},{"g":26,"x":3040,"y":3},{"g":26,"x":3105,"y":0},{"g":26,"x":3170,"y":-2},{"g":26,"x":3235,"y":1},{"g":26,"x":3300,"y":2},{"g":26,"x":3365,"y":-1},{"g":26,"x":3430,"y":1},{"g":26,"x":3495,"y":-2},{"g":26,"x":3560,"y":2},{"g":26,"x":3625,"y":0},{"g":26,"x":3690,"y":1},{"g":26,"x":3755,"y":-1},{"g":26,"x":3820,"y":2},{"g":26,"x":3885,"y":-2},{"g":26,"x":3950,"y":1},{"g":26,"x":4015,"y":52},{"g":26,"x":4080,"y":59},{"g":26,"x":4145,"y":50},{"g":26,"x":4210,"y":57},{"g":26,"x":4275,"y":3},{"g":26,"x":4340,"y":-1},{"g":26,"x":4405,"y":2},{"g":26,"x":4470,"y":-2},{"g":26,"x":4535,"y":1},{"g":26,"x":4600,"y":3},{"g":26,"x":4665,"y":-3},{"g":26,"x":4730,"y":1},{"g":26,"x":4795,"y":-1},{"g":26,"x":4860,"y":2},{"g":26,"x":4925,"y":-2},{"g":26,"x":4990,"y":1},{"g":26,"x":5055,"y":3},{"g":26,"x":5120,"y":-1},{"g":26,"x":5185,"y":0},{"g":26,"x":5250,"y":2},{"g":26,"x":5315,"y":-2},{"g":26,"x":5380,"y":1},{"g":26,"x":5445,"y":-1},{"g":26,"x":5510,"y":2},
{"g":27,"x":6515,"y":-3},{"g":27,"x":6580,"y":4},{"g":27,"x":6645,"y":-1},{"g":27,"x":6710,"y":3},{"g":27,"x":6775,"y":-4},{"g":27,"x":6840,"y":2},{"g":27,"x":6905,"y":-2},{"g":27,"x":6970,"y":5},{"g":27,"x":7035,"y":-3},{"g":27,"x":7100,"y":1},{"g":27,"x":7165,"y":3},{"g":27,"x":7230,"y":-4},{"g":27,"x":7295,"y":2},{"g":27,"x":7360,"y":-1},{"g":27,"x":7425,"y":3},{"g":27,"x":7490,"y":5},{"g":27,"x":7555,"y":7.5},{"g":27,"x":7620,"y":1},{"g":27,"x":7685,"y":-3},{"g":27,"x":7750,"y":4},{"g":27,"x":7815,"y":-2},{"g":27,"x":7880,"y":2},{"g":27,"x":7945,"y":-4},{"g":27,"x":8010,"y":3},{"g":27,"x":8075,"y":1},{"g":27,"x":8140,"y":-3},{"g":27,"x":8205,"y":4},{"g":27,"x":8270,"y":-2},{"g":27,"x":8335,"y":1},{"g":27,"x":8400,"y":-3},{"g":27,"x":8465,"y":-5.8},{"g":27,"x":8530,"y":2},{"g":27,"x":8595,"y":-1},{"g":27,"x":8660,"y":3},{"g":27,"x":8725,"y":-4},{"g":27,"x":8790,"y":2},{"g":27,"x":8855,"y":-2},{"g":27,"x":8920,"y":4},{"g":27,"x":8985,"y":-3},{"g":27,"x":9050,"y":1},{"g":27,"x":9115,"y":3},{"g":27,"x":9180,"y":-2},{"g":27,"x":9245,"y":2},{"g":27,"x":9310,"y":-4},{"g":27,"x":9375,"y":1},{"g":27,"x":9440,"y":3},{"g":27,"x":9505,"y":-2},{"g":27,"x":9570,"y":2},{"g":27,"x":9635,"y":-1},
{"g":28,"x":6060,"y":3},{"g":28,"x":6125,"y":9.5},{"g":28,"x":6190,"y":-3},{"g":28,"x":6255,"y":4},{"g":28,"x":6320,"y":-2},{"g":28,"x":6385,"y":-8},{"g":28,"x":6450,"y":3},{"g":28,"x":6515,"y":-4},{"g":28,"x":6580,"y":5},{"g":28,"x":6645,"y":-1},{"g":28,"x":6710,"y":4},{"g":28,"x":6775,"y":-5},{"g":28,"x":6840,"y":2},{"g":28,"x":6905,"y":-3},{"g":28,"x":6970,"y":5},{"g":28,"x":7035,"y":-2},{"g":28,"x":7100,"y":3},{"g":28,"x":7165,"y":-4},{"g":28,"x":7230,"y":6},{"g":28,"x":7295,"y":-1},{"g":28,"x":7360,"y":2},{"g":28,"x":7425,"y":-5},{"g":28,"x":7490,"y":4},{"g":28,"x":7555,"y":1},{"g":28,"x":7620,"y":9},{"g":28,"x":7685,"y":-2},{"g":28,"x":7750,"y":5},{"g":28,"x":7815,"y":-3},{"g":28,"x":7880,"y":2},{"g":28,"x":7945,"y":-8.7},{"g":28,"x":8010,"y":3},{"g":28,"x":8075,"y":-2},{"g":28,"x":8140,"y":6},{"g":28,"x":8205,"y":-4},{"g":28,"x":8270,"y":2},{"g":28,"x":8335,"y":-3},{"g":28,"x":8400,"y":5},{"g":28,"x":8465,"y":-1},{"g":28,"x":8530,"y":3},{"g":28,"x":8595,"y":-5},{"g":28,"x":8660,"y":2},{"g":28,"x":8725,"y":4},{"g":28,"x":8790,"y":-3},{"g":28,"x":8855,"y":1},{"g":28,"x":8920,"y":-6},{"g":28,"x":8985,"y":3},{"g":28,"x":9050,"y":-2},{"g":28,"x":9115,"y":4},{"g":28,"x":9180,"y":9.5},
{"g":29,"x":8265,"y":2},{"g":29,"x":8330,"y":-6},{"g":29,"x":8395,"y":5},{"g":29,"x":8460,"y":-3},{"g":29,"x":8525,"y":4},{"g":29,"x":8590,"y":-8},{"g":29,"x":8655,"y":3},{"g":29,"x":8720,"y":-2},{"g":29,"x":8785,"y":6},{"g":29,"x":8850,"y":-4},{"g":29,"x":8915,"y":2},{"g":29,"x":8980,"y":-9.5},{"g":29,"x":9045,"y":4},{"g":29,"x":9110,"y":-1},{"g":29,"x":9175,"y":5},{"g":29,"x":9240,"y":-5},{"g":29,"x":9305,"y":3},{"g":29,"x":9370,"y":-2},{"g":29,"x":9435,"y":6},{"g":29,"x":9500,"y":-3},{"g":29,"x":9565,"y":4},{"g":29,"x":9630,"y":10},{"g":29,"x":9695,"y":2},{"g":29,"x":9760,"y":-4},{"g":29,"x":9825,"y":5},{"g":29,"x":9890,"y":7},{"g":29,"x":9955,"y":9},{"g":29,"x":10020,"y":15.5},{"g":29,"x":10085,"y":8},{"g":29,"x":10150,"y":1},{"g":29,"x":10215,"y":-5},{"g":29,"x":10280,"y":3},{"g":29,"x":10345,"y":-3},{"g":29,"x":10410,"y":5},{"g":29,"x":10475,"y":-6},{"g":29,"x":10540,"y":2},{"g":29,"x":10605,"y":-1},{"g":29,"x":10670,"y":4},{"g":29,"x":10735,"y":-7},{"g":29,"x":10800,"y":3},{"g":29,"x":10865,"y":-2},{"g":29,"x":10930,"y":5},{"g":29,"x":10995,"y":-9},{"g":29,"x":11060,"y":2},{"g":29,"x":11125,"y":-3},{"g":29,"x":11190,"y":6},{"g":29,"x":11255,"y":-2},
{"g":30,"x":7430,"y":-3},{"g":30,"x":7495,"y":2},{"g":30,"x":7560,"y":-1},{"g":30,"x":7625,"y":3},{"g":30,"x":7690,"y":-2},{"g":30,"x":7755,"y":1},{"g":30,"x":7820,"y":4},{"g":30,"x":7885,"y":-3},{"g":30,"x":7950,"y":2},{"g":30,"x":8015,"y":-1},{"g":30,"x":8080,"y":3},{"g":30,"x":8145,"y":-4},{"g":30,"x":8210,"y":2},{"g":30,"x":8275,"y":5},{"g":30,"x":8340,"y":-2},{"g":30,"x":8405,"y":1},{"g":30,"x":8470,"y":3},{"g":30,"x":8535,"y":-3},{"g":30,"x":8600,"y":4},{"g":30,"x":8665,"y":-1},{"g":30,"x":8730,"y":2},{"g":30,"x":8795,"y":3},{"g":30,"x":8860,"y":7.5},{"g":30,"x":8925,"y":4},{"g":30,"x":8990,"y":6},{"g":30,"x":9055,"y":7.5},{"g":30,"x":9120,"y":5},{"g":30,"x":9185,"y":6},{"g":30,"x":9250,"y":1},{"g":30,"x":9315,"y":3},{"g":30,"x":9380,"y":-2},{"g":30,"x":9445,"y":2},{"g":30,"x":9510,"y":-3},{"g":30,"x":9575,"y":1},{"g":30,"x":9640,"y":-4},{"g":30,"x":9705,"y":-6},{"g":30,"x":9770,"y":2},{"g":30,"x":9835,"y":-1},{"g":30,"x":9900,"y":3},{"g":30,"x":9965,"y":-3},{"g":30,"x":10030,"y":1},{"g":30,"x":10095,"y":-5},{"g":30,"x":10160,"y":2},{"g":30,"x":10225,"y":-2},{"g":30,"x":10290,"y":3},{"g":30,"x":10355,"y":-1},{"g":30,"x":10420,"y":-4},{"g":30,"x":10485,"y":2},{"g":30,"x":10550,"y":-2},{"g":30,"x":10615,"y":1},{"g":30,"x":10680,"y":-3},
{"g":31,"x":4375,"y":2},{"g":31,"x":4440,"y":-5},{"g":31,"x":4505,"y":4},{"g":31,"x":4570,"y":-2},{"g":31,"x":4635,"y":3},{"g":31,"x":4700,"y":-6},{"g":31,"x":4765,"y":1},{"g":31,"x":4830,"y":5},{"g":31,"x":4895,"y":-3},{"g":31,"x":4960,"y":2},{"g":31,"x":5025,"y":-1},{"g":31,"x":5090,"y":6},{"g":31,"x":5155,"y":-4},{"g":31,"x":5220,"y":3},{"g":31,"x":5285,"y":-2},{"g":31,"x":5350,"y":7},{"g":31,"x":5415,"y":1},{"g":31,"x":5480,"y":-5},{"g":31,"x":5545,"y":3},{"g":31,"x":5610,"y":-2},{"g":31,"x":5675,"y":4},{"g":31,"x":5740,"y":5},{"g":31,"x":5805,"y":18},{"g":31,"x":5870,"y":24},{"g":31,"x":5935,"y":21},{"g":31,"x":6000,"y":25},{"g":31,"x":6065,"y":2},{"g":31,"x":6130,"y":-4},{"g":31,"x":6195,"y":5},{"g":31,"x":6260,"y":-3},{"g":31,"x":6325,"y":2},{"g":31,"x":6390,"y":-6},{"g":31,"x":6455,"y":4},{"g":31,"x":6520,"y":-1},{"g":31,"x":6585,"y":3},{"g":31,"x":6650,"y":-9},{"g":31,"x":6715,"y":2},{"g":31,"x":6780,"y":-3},{"g":31,"x":6845,"y":5},{"g":31,"x":6910,"y":-2},{"g":31,"x":6975,"y":1},{"g":31,"x":7040,"y":-4},{"g":31,"x":7105,"y":3},{"g":31,"x":7170,"y":-1},{"g":31,"x":7235,"y":6},{"g":31,"x":7300,"y":-3},
{"g":32,"x":4080,"y":-3},{"g":32,"x":4145,"y":5},{"g":32,"x":4210,"y":-2},{"g":32,"x":4275,"y":3},{"g":32,"x":4340,"y":-6},{"g":32,"x":4405,"y":4},{"g":32,"x":4470,"y":-1},{"g":32,"x":4535,"y":2},{"g":32,"x":4600,"y":-5},{"g":32,"x":4665,"y":6},{"g":32,"x":4730,"y":-2},{"g":32,"x":4795,"y":3},{"g":32,"x":4860,"y":-4},{"g":32,"x":4925,"y":1},{"g":32,"x":4990,"y":-8},{"g":32,"x":5055,"y":4},{"g":32,"x":5120,"y":-1},{"g":32,"x":5185,"y":3},{"g":32,"x":5250,"y":-3},{"g":32,"x":5315,"y":2},{"g":32,"x":5380,"y":-2},{"g":32,"x":5445,"y":5},{"g":32,"x":5510,"y":-1},{"g":32,"x":5575,"y":20},{"g":32,"x":5640,"y":27},{"g":32,"x":5705,"y":21},{"g":32,"x":5770,"y":25},{"g":32,"x":5835,"y":22},{"g":32,"x":5900,"y":2},{"g":32,"x":5965,"y":-4},{"g":32,"x":6030,"y":6},{"g":32,"x":6095,"y":-2},{"g":32,"x":6160,"y":3},{"g":32,"x":6225,"y":-5},{"g":32,"x":6290,"y":1},{"g":32,"x":6355,"y":4},{"g":32,"x":6420,"y":-3},{"g":32,"x":6485,"y":5},{"g":32,"x":6550,"y":-13},{"g":32,"x":6615,"y":3},{"g":32,"x":6680,"y":-2},{"g":32,"x":6745,"y":4},{"g":32,"x":6810,"y":-4},{"g":32,"x":6875,"y":2},{"g":32,"x":6940,"y":5},{"g":32,"x":7005,"y":-6},{"g":32,"x":7070,"y":2},{"g":32,"x":7135,"y":-1}
]
},
"data": {"name": "spec"},
"transform": [{"lookup": "g", "from": {"data": {"name": "names"}, "key": "g", "fields": ["n"]}}],
"facet": {"field": "n", "type": "nominal", "title": null, "header": {"labelFontSize": 12.5, "labelFont": "Liberation Sans", "labelColor": "black", "labelPadding": 4}},
"columns": 4,
"bounds": "flush",
"spacing": {"row": 82, "column": 83},
"resolve": {"scale": {"x": "independent", "y": "independent"}},
"spec": {
"width": 227,
"height": 127,
"resolve": {"axis": {"x": "independent", "y": "independent"}},
"layer": [
{"mark": {"type": "line", "color": "black", "strokeWidth": 1},
 "encoding": {
  "x": {"field": "x", "type": "quantitative", "scale": {"zero": false, "nice": false},
        "axis": {"title": null, "orient": "bottom", "tickCount": 7, "tickSize": -5, "labelPadding": 8, "labelFlush": false, "labelOverlap": false,
                 "labelExpr": "datum.value >= 10000 ? (datum.value == 10000 ? '10⁴' : format(datum.value / 10000, '.3~g') + '×10⁴') : format(datum.value, 'd')"}},
  "y": {"field": "y", "type": "quantitative", "scale": {"zero": false, "nice": false},
        "axis": {"title": null, "orient": "left", "tickCount": 2.8, "tickSize": -5, "labelPadding": 8, "labelAngle": -90, "labelAlign": "center", "labelBaseline": "bottom", "labelFlush": false, "labelOverlap": false,
                 "labelExpr": "datum.value == 0 ? '0' : (abs(datum.value) < 9.99 ? format(datum.value, 'd') + '×10⁻³' : format(datum.value / 1000, '.2~f'))"}}
 }},
{"transform": [{"aggregate": [{"op": "count", "as": "c"}]}],
 "mark": {"type": "rule", "color": "black", "strokeWidth": 1},
 "encoding": {"y": {"datum": 0, "type": "quantitative", "axis": null}}},
{"mark": {"type": "line", "strokeOpacity": 0},
 "encoding": {
  "x": {"field": "x", "type": "quantitative", "scale": {"zero": false, "nice": false}, "axis": {"title": null, "orient": "top", "tickCount": 7, "tickSize": -5, "labels": true, "labelOpacity": 0, "labelFontSize": 13, "labelPadding": 5}},
  "y": {"field": "y", "type": "quantitative", "scale": {"zero": false, "nice": false}, "axis": {"title": null, "orient": "right", "tickCount": 2.8, "tickSize": -5, "labels": false}}
 }},
{"mark": {"type": "line", "strokeOpacity": 0},
 "encoding": {
  "x": {"field": "x", "type": "quantitative", "scale": {"zero": false, "nice": false}, "axis": {"title": null, "orient": "bottom", "tickCount": 30, "tickSize": -2.5, "labels": false}},
  "y": {"field": "y", "type": "quantitative", "scale": {"zero": false, "nice": false}, "axis": {"title": null, "orient": "left", "tickCount": 14, "tickSize": -2.5, "labels": false}}
 }},
{"mark": {"type": "line", "strokeOpacity": 0},
 "encoding": {
  "x": {"field": "x", "type": "quantitative", "scale": {"zero": false, "nice": false}, "axis": {"title": null, "orient": "top", "tickCount": 30, "tickSize": -2.5, "labels": false}},
  "y": {"field": "y", "type": "quantitative", "scale": {"zero": false, "nice": false}, "axis": {"title": null, "orient": "right", "tickCount": 14, "tickSize": -2.5, "labels": false}}
 }}
]
},
"config": {
 "font": "Liberation Sans",
 "view": {"stroke": "black", "strokeWidth": 1},
 "axis": {"labelFont": "Liberation Sans", "labelFontSize": 11, "labelColor": "black", "tickColor": "black", "tickWidth": 1, "domain": false, "grid": false}
}
}
